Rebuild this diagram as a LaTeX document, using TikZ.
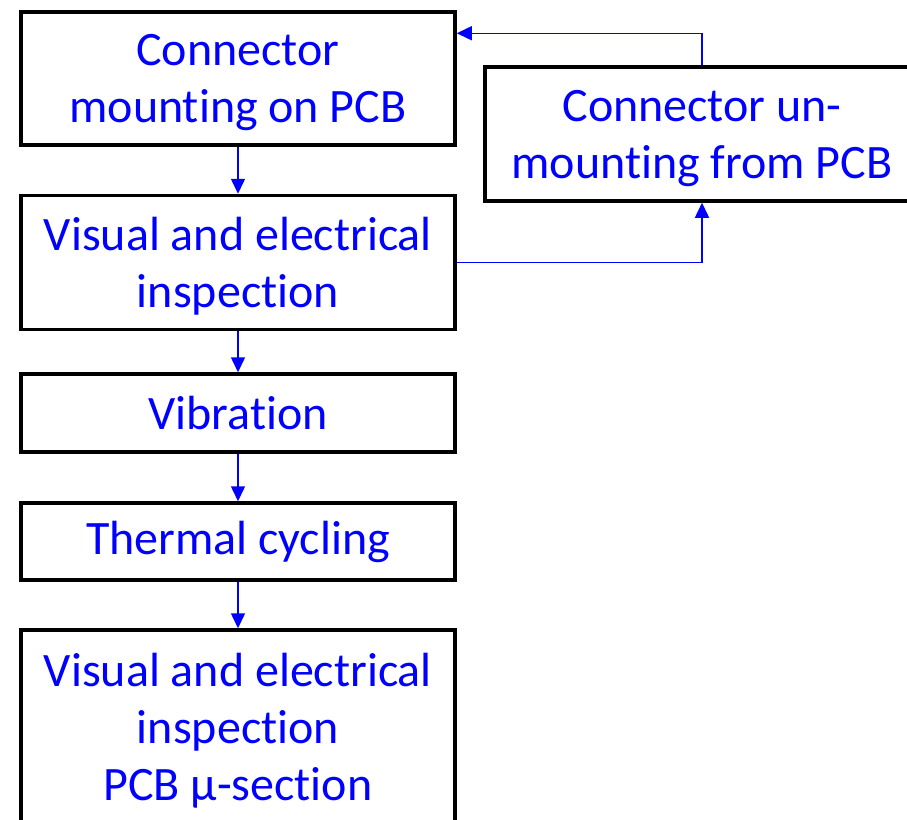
\documentclass[tikz,border=0pt]{standalone}
\usepackage{fontspec}
\setmainfont[RawFeature={-liga;-dlig;-clig}]{Carlito}
\usetikzlibrary{arrows.meta,calc}
\definecolor{txtblue}{RGB}{0,0,255}
\begin{document}
\begin{tikzpicture}[x=1pt,y=1pt,
  stepbox/.style={draw=black,line width=3.5pt,fill=white,minimum width=434pt,
    text=txtblue,align=center,inner sep=0pt,font=\fontsize{48}{57}\selectfont},
  twoline/.style={text depth=0pt},
  arr/.style={draw=txtblue,line width=1.5pt,-{Triangle[length=15pt,width=14pt]}}]
\useasboundingbox (0,0) rectangle (907,-819);
\node[stepbox,twoline,minimum height=133pt] (A) at (238,-78.5) {Connector\\mounting on PCB};
\node[stepbox,twoline,minimum height=134pt] (C) at (238,-262.5) {Visual and electrical\\inspection};
\node[stepbox,minimum height=78pt] (D) at (238,-413) {Vibration};
\node[stepbox,minimum height=77pt] (E) at (238,-541.5) {Thermal cycling};
\node[stepbox,minimum height=230pt] (F) at (238,-745) {};
\node[text=txtblue,align=center,inner sep=0pt,font=\fontsize{48}{57}\selectfont] (Ft) at (238,-731) {Visual and electrical\\inspection\\PCB µ-section};
\node[stepbox,twoline,minimum height=134pt] (B) at (702,-134) {Connector un-\\mounting from PCB};
\draw[arr] (A.south) -- (C.north);
\draw[arr] (C.south) -- (D.north);
\draw[arr] (D.south) -- (E.north);
\draw[arr] (E.south) -- (F.north);
\draw[arr] (C.east) -| (B.south);
\draw[arr] (B.north) |- ([yshift=-23pt]A.north east);
\end{tikzpicture}
\end{document}
